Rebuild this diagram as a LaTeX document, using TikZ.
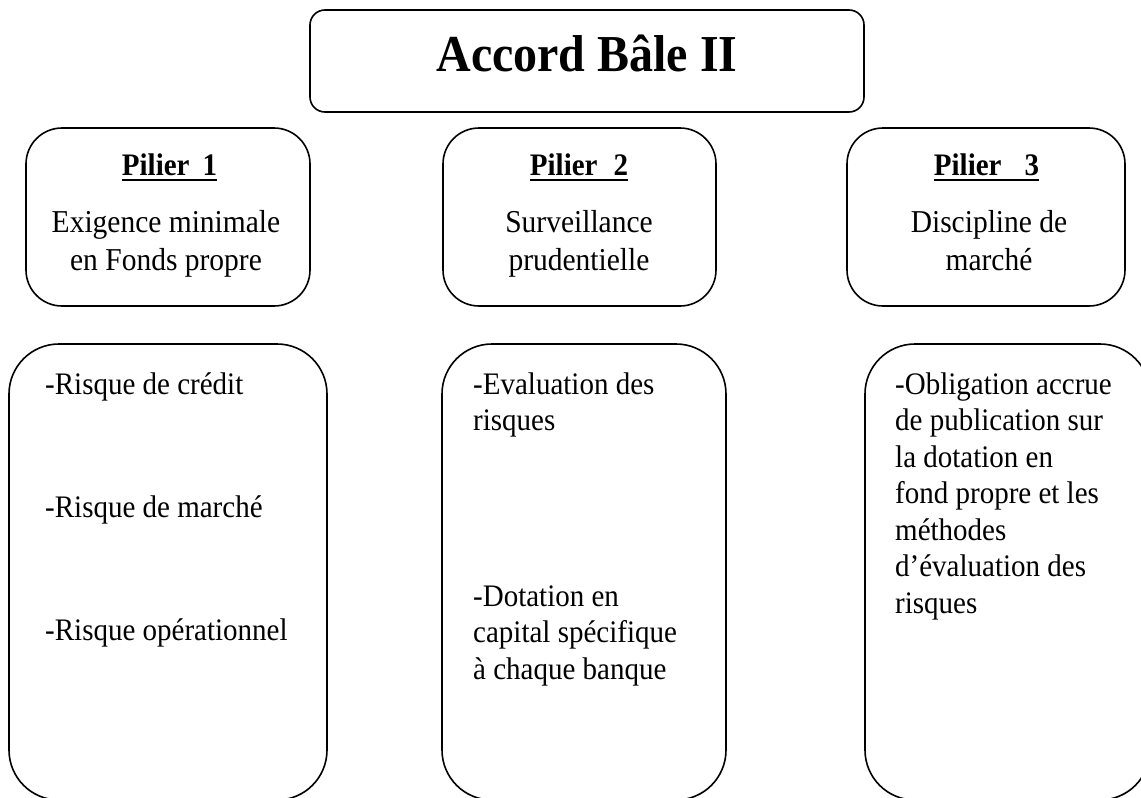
\documentclass[tikz,border=0pt]{standalone}
\usepackage{graphicx}
\usepackage{fontspec}
\setmainfont{Liberation Serif}
\newcommand{\vstretch}[1]{\scalebox{1}[1.08]{#1}}
\begin{document}
\begin{tikzpicture}[x=1pt,y=-1pt,
  boxnode/.style={draw, line width=1.6pt, rectangle, inner sep=0pt, outer sep=0pt},
  titlebox/.style={boxnode, rounded corners=15pt},
  pilbox/.style={boxnode, rounded corners=36pt},
  bigbox/.style={boxnode, rounded corners=50pt},
  titletxt/.style={anchor=base, inner sep=0pt, font=\bfseries\fontsize{48}{58}\selectfont},
  pillab/.style={anchor=base, inner sep=0pt, font=\bfseries\fontsize{29}{35}\selectfont},
  piltxt/.style={anchor=base, inner sep=0pt, font=\fontsize{29.5}{35.2}\selectfont},
  bodytxt/.style={anchor=base west, inner sep=0pt, font=\fontsize{29}{33.8}\selectfont},
  uline/.style={line width=2.4pt}]
\useasboundingbox (0,0) rectangle (1141,798);
\clip (0,0) rectangle (1141,798);
\fill[white] (0,0) rectangle (1141,798);

% title
\node[titlebox, minimum width=554pt, minimum height=102pt] (tbox) at (587,61) {};
\node[titletxt] (ttext) at (587,71) {\vstretch{Accord Bâle II}};

% pillar boxes
\node[pilbox, minimum width=284pt, minimum height=178pt] (p1box) at (168,217) {};
\node[pilbox, minimum width=273pt, minimum height=178pt] (p2box) at (579.5,217) {};
\node[pilbox, minimum width=278pt, minimum height=178pt] (p3box) at (986,217) {};

\node[pillab] (p1lab) at (169.5,175) {\vstretch{Pilier\hspace{13pt}1}};
\node[pillab] (p2lab) at (579,175) {\vstretch{Pilier\hspace{16pt}2}};
\node[pillab] (p3lab) at (986.5,175) {\vstretch{Pilier\hspace{23pt}3}};
\draw[uline] ([yshift=-5pt]p1lab.base west) -- ([yshift=-5pt]p1lab.base east);
\draw[uline] ([yshift=-5pt]p2lab.base west) -- ([yshift=-5pt]p2lab.base east);
\draw[uline] ([yshift=-5pt]p3lab.base west) -- ([yshift=-5pt]p3lab.base east);

\node[piltxt] (p1txt) at (166,232) {\vstretch{\parbox[t]{280pt}{\centering Exigence minimale\\en Fonds propre}}};
\node[piltxt] (p2txt) at (579,232) {\vstretch{\parbox[t]{260pt}{\centering Surveillance\\prudentielle}}};
\node[piltxt] (p3txt) at (989,232) {\vstretch{\parbox[t]{260pt}{\centering Discipline de\\marché}}};

% detail boxes
\node[bigbox, minimum width=318pt, minimum height=456pt] (b1box) at (168,572) {};
\node[bigbox, minimum width=284pt, minimum height=456pt] (b2box) at (584,572) {};
\node[bigbox, minimum width=285pt, minimum height=456pt] (b3box) at (1007.5,572) {};

\node[bodytxt] (b1a) at (45,394) {\vstretch{-Risque de crédit}};
\node[bodytxt] (b1b) at (45,517) {\vstretch{-Risque de marché}};
\node[bodytxt] (b1c) at (45,640) {\vstretch{-Risque opérationnel}};

\node[bodytxt] (b2a) at (473,394) {\vstretch{\parbox[t]{240pt}{\raggedright -Evaluation des\\risques}}};
\node[bodytxt] (b2b) at (473,606) {\vstretch{\parbox[t]{240pt}{\raggedright -Dotation en\\capital spécifique\\à chaque banque}}};

\node[bodytxt] (b3a) at (895,394) {\vstretch{\parbox[t]{240pt}{\raggedright -Obligation accrue\\de publication sur\\la dotation en\\fond propre et les\\méthodes\\d’évaluation des\\risques}}};
\end{tikzpicture}
\end{document}
